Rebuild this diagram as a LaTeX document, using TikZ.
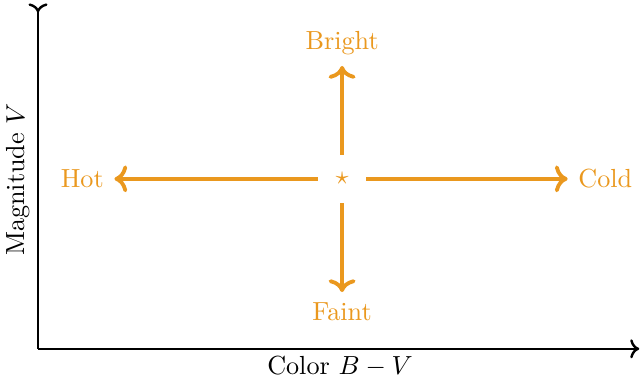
\documentclass[tikz,border=0pt,11pt]{standalone}
\usepackage{amsmath,amssymb}
\usepackage{xcolor}
\usepackage{tikz}
\usetikzlibrary{positioning,calc,arrows.meta}
\definecolor{hrorg}{RGB}{234,152,30}
\definecolor{hrink}{HTML}{000000}
\tikzset{
  axis/.style  ={line width=1pt, draw=hrink},
  dir/.style   ={-{To[scale=1.05]}, line width=1.6pt, draw=hrorg},
  lbl/.style   ={text=hrorg, inner sep=0pt},
  cen/.style   ={text=hrorg, circle, inner sep=0pt, minimum size=7mm},
}
\begin{document}
\begin{tikzpicture}
  \useasboundingbox (0,0) rectangle (9.44,5.57);
  % axes
  \coordinate (O) at (0.559,0.441);
  \coordinate (ytop) at (0.559,5.52);
  \coordinate (xend) at (9.40,0.441);
  \draw[axis,-{To[reversed]}] (O) -- (ytop);
  \draw[axis,-{To}] (O) -- (xend);
  \node (xlab) at (5.0,0.19) {Color $B-V$};
  \node[rotate=90] (ylab) at (0.265,2.93) {Magnitude $V$};
  % directions
  \node[cen] (star) at (5.03,2.94) {$\star$};
  \node[lbl] (bright) at (5.03,4.93) {Bright};
  \node[lbl] (faint) at (5.03,0.985) {Faint};
  \node[lbl] (hot) at (1.21,2.94) {Hot};
  \node[lbl] (cold) at (8.90,2.94) {Cold};
  \draw[dir, shorten >=1.5mm] (star) -- (bright);
  \draw[dir, shorten >=1.5mm] (star) -- (faint);
  \draw[dir, shorten >=1.5mm] (star) -- (hot);
  \draw[dir, shorten >=1.5mm] (star) -- (cold);
\end{tikzpicture}
\end{document}
